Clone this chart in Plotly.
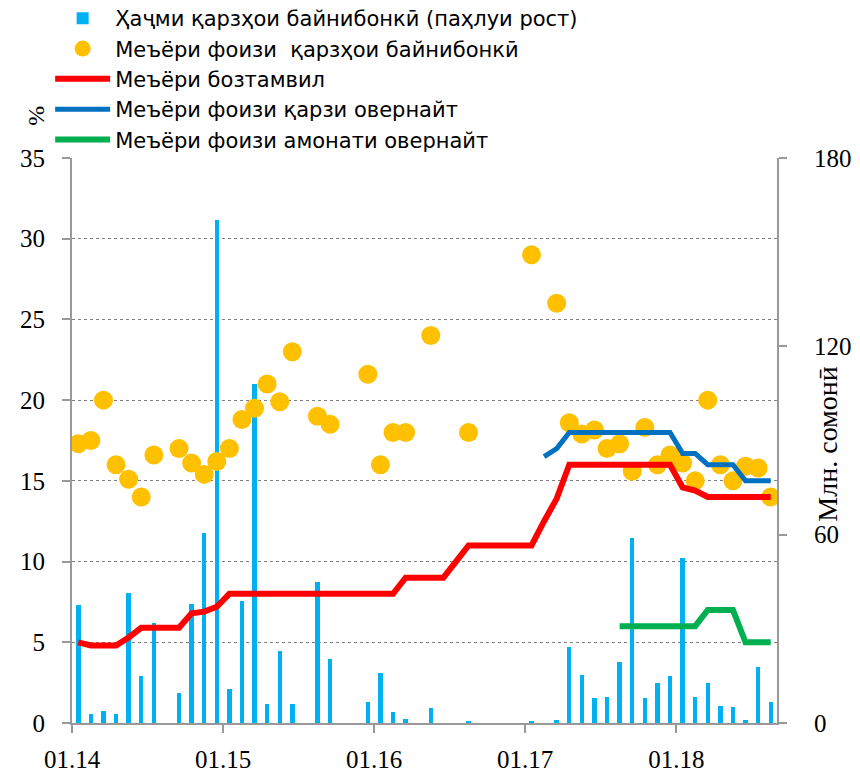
import plotly.graph_objs as go

# monthly data, 01.2014 - 08.2018
volume = [37.5, 3.0, 3.8, 2.8, 41.5, 14.9, 31.9, 0, 9.4, 37.8, 60.4, 160.1,
          10.7, 38.9, 108, 5.9, 22.8, 5.9, 0, 44.9, 20.4, 0, 0, 6.7,
          15.9, 3.4, 1.2, 0, 4.8, 0, 0, 0.4, 0, 0, 0, 0,
          0.4, 0, 0.9, 24.2, 15.3, 7.9, 8.3, 19.3, 58.8, 7.9, 12.8, 15.0,
          52.7, 8.3, 12.8, 5.4, 5.1, 1.0, 17.7, 6.8]

interbank_rate = [17.3, 17.5, 20.0, 16.0, 15.1, 14.0, 16.6, None, 17.0, 16.1, 15.4, 16.2,
                  17.0, 18.8, 19.5, 21.0, 19.9, 23.0, None, 19.0, 18.5, None, None, 21.6,
                  16.0, 18.0, 18.0, None, 24.0, None, None, 18.0, None, None, None, None,
                  29.0, None, 26.0, 18.6, 17.9, 18.15, 17.0, 17.3, 15.6, 18.3, 16.0, 16.6,
                  16.1, 15.0, 20.0, 16.0, 15.0, 15.9, 15.8, 14.0]

refin_rate = [5.0, 4.8, 4.8, 4.8, 5.3, 5.9, 5.9, 5.9, 5.9, 6.8, 6.9, 7.2,
              8.0, 8.0, 8.0, 8.0, 8.0, 8.0, 8.0, 8.0, 8.0, 8.0, 8.0, 8.0,
              8.0, 8.0, 9.0, 9.0, 9.0, 9.0, 10.0, 11.0, 11.0, 11.0, 11.0, 11.0,
              11.0, 12.5, 13.9, 16.0, 16.0, 16.0, 16.0, 16.0, 16.0, 16.0, 16.0, 16.0,
              14.6, 14.4, 14.0, 14.0, 14.0, 14.0, 14.0, 14.0]

overnight_loan = [None] * 37 + [16.5, 17.0, 18.0, 18.0, 18.0, 18.0, 18.0, 18.0, 18.0, 18.0, 18.0,
                                16.7, 16.7, 16.0, 16.0, 16.0, 15.0, 15.0, 15.0]

overnight_dep = [None] * 43 + [6.0, 6.0, 6.0, 6.0, 6.0, 6.0, 6.0, 7.0, 7.0, 7.0, 5.0, 5.0, 5.0]

year_labels = ["01.14", "01.15", "01.16", "01.17", "01.18"]

x = list(range(len(volume)))
year_ticks = [i * 12 - 0.5 for i in range(len(year_labels))]

fig = go.Figure()
fig.add_trace(go.Bar(x=x, y=volume, width=0.35, marker=dict(color="#00B0F0", line=dict(width=0)),
                     name="Ҳаҷми қарзҳои байнибонкӣ (паҳлуи рост)", yaxis="y"))
fig.add_trace(go.Scatter(x=x, y=interbank_rate, mode="markers", yaxis="y2",
                         marker=dict(color="#FFC000", size=19),
                         name="Меъёри фоизи  қарзҳои байнибонкӣ"))
fig.add_trace(go.Scatter(x=x, y=refin_rate, mode="lines", yaxis="y2",
                         line=dict(color="#FF0000", width=6), name="Меъёри бозтамвил"))
fig.add_trace(go.Scatter(x=x, y=overnight_loan, mode="lines", yaxis="y2",
                         line=dict(color="#0070C0", width=5), name="Меъёри фоизи қарзи овернайт"))
fig.add_trace(go.Scatter(x=x, y=overnight_dep, mode="lines", yaxis="y2",
                         line=dict(color="#00B050", width=6), name="Меъёри фоизи амонати овернайт"))

tick_font = dict(family="Liberation Serif", size=25, color="black")
axis_style = dict(ticks="outside", ticklen=8, tickcolor="#999999", tickwidth=2,
                  showline=True, linecolor="#999999", linewidth=2,
                  zeroline=False, tickfont=tick_font, automargin=False)

# page body has an 8px margin, so the plot box is shifted back by 8px
fig.update_layout(
    width=860, height=775,
    margin=dict(l=64, r=91, t=150, b=60, autoexpand=False),
    plot_bgcolor="white", paper_bgcolor="white",
    bargap=0,
    showlegend=True,
    legend=dict(x=-0.031, y=1.283, xanchor="left", yanchor="top",
                font=dict(family="DejaVu Sans", size=21, color="black"),
                itemwidth=55, tracegroupgap=0, bgcolor="rgba(0,0,0,0)"),
    xaxis=dict(range=[-0.5, 55.5], tickvals=year_ticks, ticktext=year_labels,
               showgrid=False, ticklabelstandoff=5, **axis_style),
    yaxis=dict(range=[0, 180], tickvals=[0, 60, 120, 180], side="right",
               showgrid=False, ticklabelstandoff=22, **axis_style),
    yaxis2=dict(range=[0, 35], dtick=5, side="left", overlaying="y",
                showgrid=True, gridcolor="#808080", gridwidth=1, griddash="dot",
                ticklabelstandoff=12, **axis_style),
    annotations=[
        dict(text="%", textangle=-90, xref="paper", yref="paper", x=-0.051, y=1.075,
             xanchor="center", yanchor="middle", showarrow=False,
             font=dict(family="Liberation Serif", size=24, color="black")),
        dict(text="Млн. сомонӣ", textangle=-90, xref="paper", yref="paper", x=1.072, y=0.494,
             xanchor="center", yanchor="middle", showarrow=False,
             font=dict(family="Liberation Serif", size=28, color="black")),
    ],
)

fig.write_html("out.html")
